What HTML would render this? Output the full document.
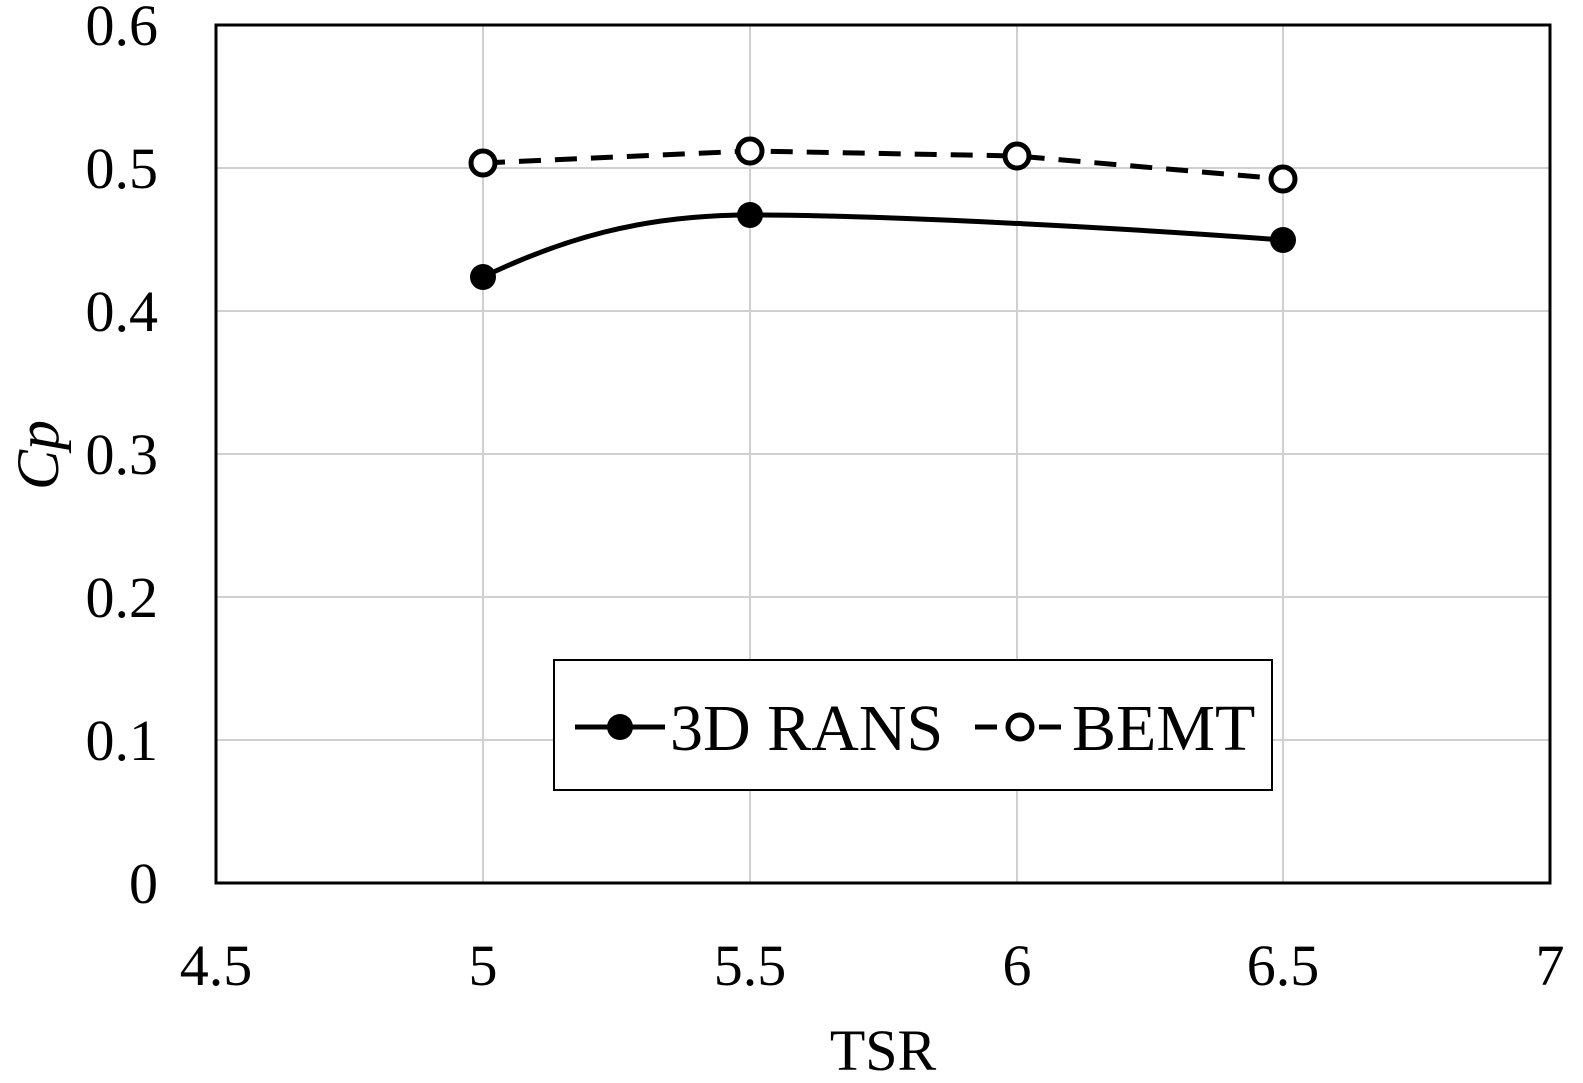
<!DOCTYPE html>
<html><head><style>
html,body{margin:0;padding:0;background:#fff;}
svg{display:block;}
text{font-family:"Liberation Serif",serif;fill:#000;}
</style></head><body>
<svg width="1583" height="1083" viewBox="0 0 1583 1083">
<g stroke="#d0d0d0" stroke-width="2">
<line x1="216" y1="740" x2="1550" y2="740"/>
<line x1="216" y1="597" x2="1550" y2="597"/>
<line x1="216" y1="454" x2="1550" y2="454"/>
<line x1="216" y1="311" x2="1550" y2="311"/>
<line x1="216" y1="168" x2="1550" y2="168"/>
<line x1="483" y1="25" x2="483" y2="883"/>
<line x1="750" y1="25" x2="750" y2="883"/>
<line x1="1017" y1="25" x2="1017" y2="883"/>
<line x1="1283" y1="25" x2="1283" y2="883"/>
</g>
<rect x="216" y="25" width="1334" height="858" fill="none" stroke="#000" stroke-width="3"/>
<g font-size="58" text-anchor="end">
<text x="158" y="903">0</text>
<text x="158" y="760">0.1</text>
<text x="158" y="617">0.2</text>
<text x="158" y="474">0.3</text>
<text x="158" y="331">0.4</text>
<text x="158" y="188">0.5</text>
<text x="158" y="45">0.6</text>
</g>
<g font-size="58" text-anchor="middle">
<text x="216" y="985">4.5</text>
<text x="483" y="985">5</text>
<text x="750" y="985">5.5</text>
<text x="1017" y="985">6</text>
<text x="1283" y="985">6.5</text>
<text x="1550" y="985">7</text>
<text x="883" y="1070">TSR</text>
</g>
<text transform="translate(58,455) rotate(-90)" font-size="60" font-style="italic" text-anchor="middle">Cp</text>
<path d="M483,163 L750,151 L1017,156 L1283,179" fill="none" stroke="#000" stroke-width="5" stroke-dasharray="22,14"/>
<path d="M483,277 C560,240 640,215 750,215 C900,215 1150,230 1283,240" fill="none" stroke="#000" stroke-width="5"/>
<g fill="#000">
<circle cx="483" cy="277" r="13"/><circle cx="750" cy="215" r="13"/><circle cx="1283" cy="240" r="13"/>
</g>
<g fill="#fff" stroke="#000" stroke-width="5">
<circle cx="483" cy="163" r="12"/><circle cx="750" cy="151" r="12"/><circle cx="1017" cy="156" r="12"/><circle cx="1283" cy="179" r="12"/>
</g>
<rect x="554" y="660" width="718" height="130" fill="#fff" stroke="#000" stroke-width="2"/>
<line x1="575" y1="727" x2="665" y2="727" stroke="#000" stroke-width="5"/>
<circle cx="620" cy="727" r="13" fill="#000"/>
<text x="670" y="750" font-size="66">3D RANS</text>
<line x1="975" y1="727" x2="1065" y2="727" stroke="#000" stroke-width="5" stroke-dasharray="22,10"/>
<circle cx="1020" cy="727" r="12" fill="#fff" stroke="#000" stroke-width="5"/>
<text x="1072" y="750" font-size="66">BEMT</text>
</svg>
</body></html>
